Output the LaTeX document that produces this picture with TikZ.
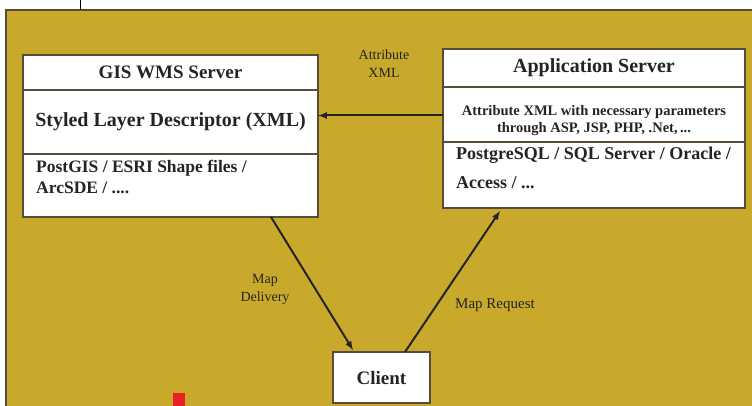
\documentclass[tikz,border=0pt]{standalone}
\usepackage{fontspec}
\setmainfont{Liberation Serif}
\usetikzlibrary{positioning,calc}
\definecolor{bgolive}{RGB}{201,169,43}
\definecolor{edgebrown}{RGB}{88,76,56}
\definecolor{inkgray}{RGB}{38,36,32}
\definecolor{markred}{RGB}{234,32,40}
\tikzset{
	part/.style={draw=edgebrown, fill=white, line width=1.5pt, outer sep=0pt, inner sep=2pt, text=inkgray},
	partlabel/.style={inner sep=0pt, text=inkgray, align=left},
	flowlabel/.style={inner sep=0pt, text=inkgray, align=center, font=\fontsize{14}{18}\selectfont},
	flow/.style={-latex, line width=2pt, draw=inkgray}
}

\begin{document}
\begin{tikzpicture}[x=1pt,y=-1pt]
		\useasboundingbox (0,0) rectangle (752,406);
		\fill[bgolive] (5,10) rectangle (752,406);
		\draw[edgebrown, line width=2pt] (6,406) -- (6,10) -- (752,10);
		\draw[black, line width=0.8pt] (80,0) -- (80,10);
		\fill[markred] (173,393) rectangle (185,406);

		% GIS WMS Server
		\node[part, minimum width=295pt, minimum height=35pt, font=\fontsize{19}{22}\selectfont\bfseries] (gistitle) at (170.5,72.5) {GIS WMS Server};
		\node[part, minimum width=295pt, minimum height=64pt, below=0pt of gistitle, font=\fontsize{20}{22}\selectfont\bfseries] (gissld) {Styled Layer Descriptor (XML)};
		\node[part, minimum width=295pt, minimum height=63pt, below=0pt of gissld] (gisdata) {};
		\node[partlabel, anchor=north west, font=\fontsize{17.5}{21}\selectfont\bfseries] (gisdatatext) at ($(gisdata.north west)+(13,6)$) {PostGIS / ESRI Shape files /\\ArcSDE / ....};

		% Application Server
		\node[part, minimum width=302pt, minimum height=38pt, font=\fontsize{20}{23}\selectfont\bfseries] (apptitle) at (594,68) {Application Server};
		\node[part, minimum width=302pt, minimum height=55pt, below=0pt of apptitle] (appattr) {};
		\node[partlabel, align=center, font=\fontsize{14.5}{17}\selectfont\bfseries] (appattrtext) at ([yshift=-6pt]appattr.center) {Attribute XML with necessary parameters\\through ASP, JSP, PHP, .Net,\,...};
		\node[part, minimum width=302pt, minimum height=66pt, below=0pt of appattr] (appdata) {};
		\node[partlabel, anchor=north west, font=\fontsize{18}{29}\selectfont\bfseries] (appdatatext) at ($(appdata.north west)+(13,5)$) {PostgreSQL / SQL Server / Oracle /\\Access / ...};

		% Client
		\node[part, minimum width=97pt, minimum height=51pt, font=\fontsize{19}{22}\selectfont\bfseries] (client) at (381.5,377.5) {Client};

		% flows
		\draw[flow] ([yshift=-1pt]appattr.west) -- ([yshift=-1pt]appattr.west -| gissld.east);
		\draw[flow] ([xshift=-47pt]gisdata.south east) -- ([xshift=20pt, yshift=2pt]client.north west);
		\draw[flow] ([xshift=-25pt]client.north east) -- ([xshift=57pt, yshift=-3pt]appdata.south west);

		\node[flowlabel] (attrlabel) at (384,64) {Attribute\\XML};
		\node[flowlabel] (deliverylabel) at (265,289) {Map\\Delivery};
		\node[flowlabel, font=\fontsize{15}{18}\selectfont] (requestlabel) at (495,305) {Map Request};
	\end{tikzpicture}
\end{document}
